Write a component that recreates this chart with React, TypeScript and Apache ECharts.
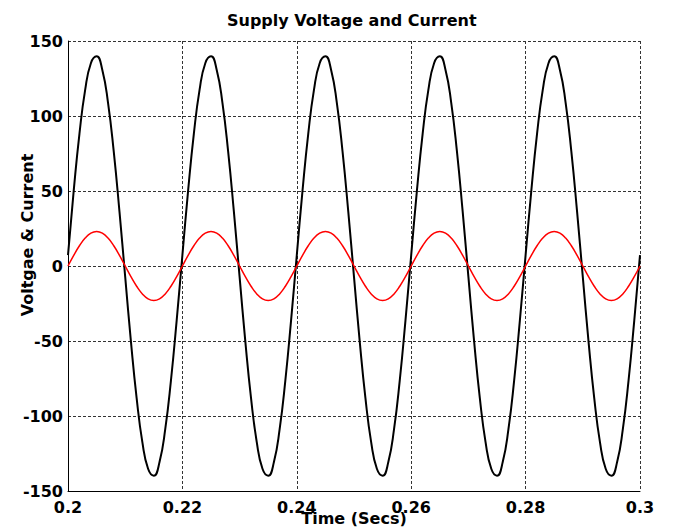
import React, { useEffect, useRef } from "react";
import * as echarts from "echarts";

// Sampling grid of the time axis (seconds)
const sampleStart = 0.2;
const sampleStep = 0.001;

// Supply voltage (black) at each 1 ms step from 0.200 s to 0.300 s
const voltage: number[] = [
  7.3, 50.2, 88.1, 117.4, 135.2, 139.8, 130.7, 108.8, 76.2, 36.2,
  -7.3, -50.2, -88.1, -117.4, -135.2, -139.8, -130.7, -108.8, -76.2, -36.2,
  7.3, 50.2, 88.1, 117.4, 135.2, 139.8, 130.7, 108.8, 76.2, 36.2,
  -7.3, -50.2, -88.1, -117.4, -135.2, -139.8, -130.7, -108.8, -76.2, -36.2,
  7.3, 50.2, 88.1, 117.4, 135.2, 139.8, 130.7, 108.8, 76.2, 36.2,
  -7.3, -50.2, -88.1, -117.4, -135.2, -139.8, -130.7, -108.8, -76.2, -36.2,
  7.3, 50.2, 88.1, 117.4, 135.2, 139.8, 130.7, 108.8, 76.2, 36.2,
  -7.3, -50.2, -88.1, -117.4, -135.2, -139.8, -130.7, -108.8, -76.2, -36.2,
  7.3, 50.2, 88.1, 117.4, 135.2, 139.8, 130.7, 108.8, 76.2, 36.2,
  -7.3, -50.2, -88.1, -117.4, -135.2, -139.8, -130.7, -108.8, -76.2, -36.2,
  7.3,
];

// Supply current (red), same sampling
const current: number[] = [
  0, 7.1, 13.5, 18.6, 21.9, 23.0, 21.9, 18.6, 13.5, 7.1,
  0, -7.1, -13.5, -18.6, -21.9, -23.0, -21.9, -18.6, -13.5, -7.1,
  0, 7.1, 13.5, 18.6, 21.9, 23.0, 21.9, 18.6, 13.5, 7.1,
  0, -7.1, -13.5, -18.6, -21.9, -23.0, -21.9, -18.6, -13.5, -7.1,
  0, 7.1, 13.5, 18.6, 21.9, 23.0, 21.9, 18.6, 13.5, 7.1,
  0, -7.1, -13.5, -18.6, -21.9, -23.0, -21.9, -18.6, -13.5, -7.1,
  0, 7.1, 13.5, 18.6, 21.9, 23.0, 21.9, 18.6, 13.5, 7.1,
  0, -7.1, -13.5, -18.6, -21.9, -23.0, -21.9, -18.6, -13.5, -7.1,
  0, 7.1, 13.5, 18.6, 21.9, 23.0, 21.9, 18.6, 13.5, 7.1,
  0, -7.1, -13.5, -18.6, -21.9, -23.0, -21.9, -18.6, -13.5, -7.1,
  0,
];

const titleText = "Supply Voltage and Current";
const xAxisName = "Time (Secs)";
const yAxisName = "Voltgae & Current";

const FONT = "'DejaVu Sans', Verdana, sans-serif";

export default function App() {
  const ref = useRef<HTMLDivElement>(null);

  useEffect(() => {
    if (!ref.current) return;
    const chart = echarts.init(ref.current, undefined, { renderer: "svg" });
    const toPoints = (arr: number[]) =>
      arr.map((v, i) => [+(sampleStart + i * sampleStep).toFixed(4), v]);

    const splitLine = {
      show: true,
      lineStyle: { color: "#333", width: 1, type: [3, 2] as number[] },
    };

    chart.setOption({
      animation: false,
      backgroundColor: "#ffffff",
      title: {
        text: titleText,
        left: 222,
        top: 7,
        textStyle: { fontFamily: FONT, fontSize: 16, fontWeight: "bold", color: "#000" },
      },
      grid: {
        left: 68,
        right: 33,
        top: 41,
        bottom: 38,
        containLabel: false,
        outerBoundsMode: "none",
      },
      graphic: [
        {
          type: "text",
          x: 27,
          y: 235,
          rotation: Math.PI / 2,
          style: {
            text: yAxisName,
            fontFamily: FONT,
            fontSize: 16,
            fontWeight: "bold",
            fill: "#000",
            align: "center",
            verticalAlign: "middle",
          },
        },
      ],
      xAxis: {
        type: "value",
        min: 0.2,
        max: 0.3,
        interval: 0.02,
        name: xAxisName,
        nameLocation: "middle",
        nameGap: 19,
        nameMoveOverlap: false,
        nameTextStyle: { fontFamily: FONT, fontSize: 16, fontWeight: "bold", color: "#000" },
        axisLine: { show: true, onZero: false, lineStyle: { color: "#000", width: 1 } },
        axisTick: { show: false },
        axisLabel: {
          margin: 8,
          fontFamily: FONT,
          fontSize: 16,
          fontWeight: "bold",
          color: "#000",
          formatter: (v: number) => String(+v.toFixed(2)),
        },
        splitLine,
      },
      yAxis: {
        type: "value",
        min: -150,
        max: 150,
        interval: 50,
        axisLine: { show: true, onZero: false, lineStyle: { color: "#000", width: 1 } },
        axisTick: { show: false },
        axisLabel: {
          margin: 5,
          fontFamily: FONT,
          fontSize: 16,
          fontWeight: "bold",
          color: "#000",
        },
        splitLine,
      },
      series: [
        {
          name: "Voltage",
          type: "line",
          data: toPoints(voltage),
          smooth: true,
          symbol: "none",
          lineStyle: { color: "#000", width: 2 },
        },
        {
          name: "Current",
          type: "line",
          data: toPoints(current),
          smooth: true,
          symbol: "none",
          lineStyle: { color: "#ff0000", width: 1.5 },
        },
      ],
    });

    return () => chart.dispose();
  }, []);

  return (
    <div
      ref={ref}
      style={{ position: "absolute", left: 0, top: 0, width: 673, height: 529 }}
    />
  );
}
